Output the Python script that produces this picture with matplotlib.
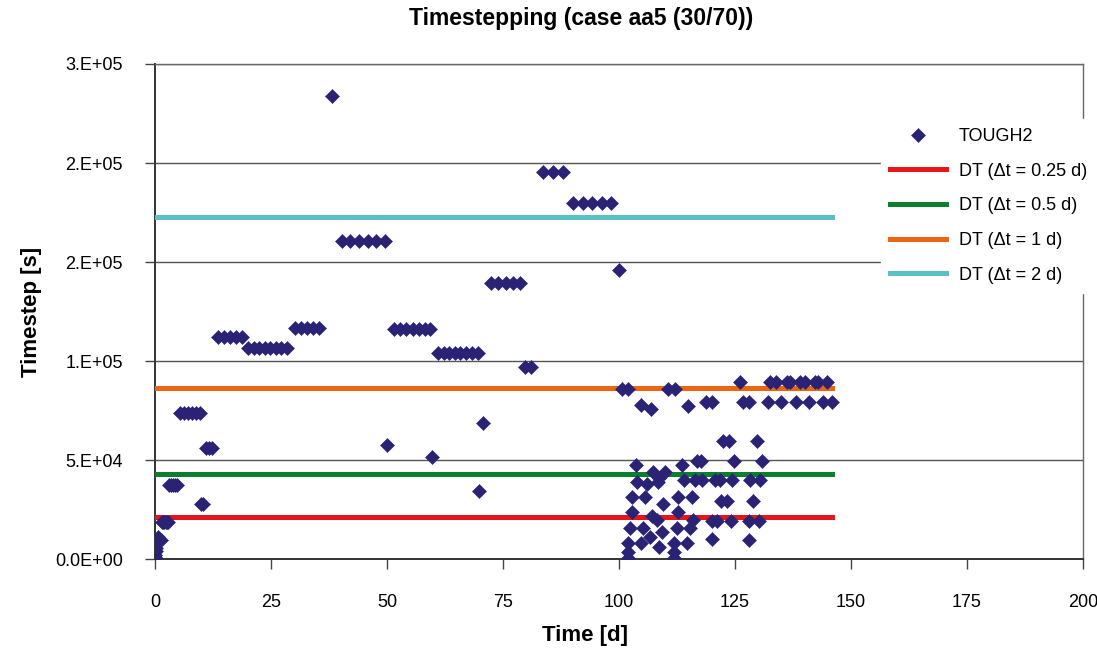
import matplotlib
matplotlib.use("Agg")
import matplotlib.pyplot as plt

#1) Data
# TOUGH2 run, first 100 days: simulated time [d] and timestep used [s]
time_early = [0.0, 0.03, 0.08, 0.15, 0.25, 0.4, 0.55, 0.7, 1.3,
              1.6, 1.8, 2.0, 2.3, 2.5, 2.7,
              3.0, 3.4, 3.8, 4.3, 4.7,
              5.35, 6.2, 7.05, 7.9, 8.75, 9.6,
              10.0, 10.3,
              10.9, 11.6, 12.3,
              13.6, 14.9, 16.2, 17.5, 18.8,
              20.1, 21.3, 22.5, 23.7, 24.8, 26.0, 27.2, 28.4,
              30.1, 31.4, 32.7, 34.0, 35.3,
              38.1,
              40.2, 42.0, 43.9, 45.8, 47.6, 49.5,
              50.1,
              51.5, 52.8, 54.1, 55.5, 56.8, 58.1, 59.3,
              59.8,
              61.0, 62.2, 63.4, 64.6, 65.8, 67.1, 68.3, 69.5,
              69.8, 70.6,
              72.4, 74.0, 75.6, 77.2, 78.7,
              79.8, 81.0,
              83.7, 85.8, 87.9,
              90.1, 92.2, 94.2, 96.3, 98.3,
              100.0]
step_early = [300, 1000, 2500, 4500, 6000, 8500, 11000, 11500, 9800,
              19000, 19000, 19000, 19000, 19000, 19000,
              37600, 37600, 37600, 37600, 37600,
              73800, 73800, 73800, 73800, 73800, 73800,
              28200, 28200,
              56100, 56100, 56100,
              112400, 112400, 112400, 112400, 112400,
              106600, 106600, 106600, 106600, 106600, 106600, 106600, 106600,
              117000, 117000, 117000, 117000, 117000,
              234000,
              160800, 160800, 160800, 160800, 160800, 160800,
              57800,
              116200, 116200, 116200, 116200, 116200, 116200, 116200,
              51600,
              104000, 104000, 104000, 104000, 104000, 104000, 104000, 104000,
              34600, 69000,
              139400, 139400, 139400, 139400, 139400,
              97000, 97000,
              195400, 195400, 195400,
              179700, 179700, 179700, 179700, 179700,
              146100]

# TOUGH2 run after 100 days (many cut timesteps)
time_late = [100.6, 102.0, 110.6, 112.1,
             104.7, 106.8, 114.8, 118.75, 120.1,
             126.1, 132.5, 133.9, 136.1, 136.9, 139.0, 140.1, 142.2, 142.9, 144.9,
             126.7, 127.9, 132.2, 134.9, 138.1, 141.0, 144.0, 145.8,
             122.3, 123.7, 129.7,
             103.6, 113.5,
             116.7, 117.7, 124.8, 130.8,
             107.4, 109.9, 108.7, 108.5, 103.9, 106.0,
             113.9, 116.4, 117.8, 120.7, 121.8, 124.4, 128.2, 130.4,
             102.7, 105.6, 112.8, 115.7,
             109.5, 122.0, 123.2, 128.8,
             102.7, 112.8,
             107.0, 108.1, 116.0, 115.3,
             120.0, 121.1, 124.1, 128.1, 130.2,
             102.4, 105.2, 109.2, 112.4,
             106.7, 120.0, 128.1,
             102.0, 104.7, 108.7, 111.9, 114.7,
             102.0, 102.0, 111.9, 111.9]
step_late = [86000, 86000, 86000, 86000,
             77700, 75700, 77600, 79600, 79600,
             89700, 89700, 89700, 89700, 89700, 89700, 89700, 89700, 89700, 89700,
             79300, 79300, 79300, 79300, 79300, 79300, 79300, 79300,
             59800, 59800, 59800,
             47700, 47700,
             49700, 49700, 49700, 49700,
             44300, 44300, 41000, 39300, 39300, 38100,
             40100, 40100, 40100, 40100, 40100, 40100, 40100, 40100,
             31700, 31700, 31700, 31700,
             28000, 29700, 29700, 29700,
             24100, 24100,
             22000, 19700, 19900, 15900,
             19500, 19500, 19500, 19500, 19500,
             15700, 15700, 14000, 15700,
             11500, 10200, 9800,
             8500, 8500, 6500, 8500, 8500,
             3900, 800, 3900, 800]

# fixed timestep runs [d]
dt_days = [0.25, 0.5, 1, 2]
dt_labels = ["DT (\u0394t = 0.25 d)", "DT (\u0394t = 0.5 d)",
             "DT (\u0394t = 1 d)", "DT (\u0394t = 2 d)"]

x_ticks = [0, 25, 50, 75, 100, 125, 150, 175, 200]
y_ticks = [0, 50000, 100000, 150000, 200000, 250000]
y_tick_labels = ["0.0E+00", "5.E+04", "1.E+05", "2.E+05", "2.E+05", "3.E+05"]

#2) Plot
plt.rcParams["font.family"] = ["Liberation Sans", "DejaVu Sans"]
fig = plt.figure(figsize=(10.97, 6.6), dpi=100)
ax = fig.add_axes([0.1413, 0.1523, 0.846, 0.7508])

times = time_early + time_late
steps = step_early + step_late
t_end = max(times)

ax.plot(times, steps, linestyle="none", marker="D", ms=6.9, color="#2a2275",
        mec="#2a2275", mew=0.4, label="TOUGH2", zorder=4)

dt_colors = ["#e3161b", "#0d7e2e", "#ec6512", "#5bc0c5"]
for d, lab, c in zip(dt_days, dt_labels, dt_colors):
    ax.plot([0, t_end], [d * 86400, d * 86400], color=c, lw=3.6,
            solid_capstyle="projecting", label=lab, zorder=3)

#3) Axes, grid, ticks
ax.set_xlim(0, 200)
ax.set_ylim(0, 250000)
ax.set_xticks(x_ticks)
ax.set_yticks(y_ticks)
ax.set_yticklabels(y_tick_labels)
ax.yaxis.grid(True, color="#555555", lw=1)
ax.set_axisbelow(True)
for side in ["left", "bottom"]:
    ax.spines[side].set_color("#333333")
    ax.spines[side].set_linewidth(1.4)
for side in ["top", "right"]:
    ax.spines[side].set_color("#666666")
    ax.spines[side].set_linewidth(1.0)
ax.tick_params(axis="x", direction="out", length=7, width=1, color="#444444",
               labelsize=13, pad=18)
ax.tick_params(axis="y", direction="out", length=7, width=1, color="#444444",
               labelsize=13, pad=16)

fig.text(581 / 1097, 1 - 19 / 660, "Timestepping (case aa5 (30/70))",
         ha="center", va="center", fontsize=16.5, fontweight="bold")
fig.text(585 / 1097, 1 - 636 / 660, "Time [d]", ha="center", va="center",
         fontsize=16, fontweight="bold")
fig.text(31 / 1097, 1 - 312 / 660, "Timestep [s]", ha="center", va="center",
         rotation=90, fontsize=16, fontweight="bold")

#4) Legend on the right edge
leg = ax.legend(loc="upper left", bbox_to_anchor=(881 / 1097, 1 - 119 / 660),
                bbox_transform=fig.transFigure, fontsize=13, frameon=True,
                fancybox=False, edgecolor="white", facecolor="white",
                framealpha=1, borderpad=0.5, handlelength=3.1,
                handletextpad=0.7, labelspacing=0.98, numpoints=1,
                borderaxespad=0)
leg.set_zorder(10)

fig.savefig("out.png", dpi=100)
